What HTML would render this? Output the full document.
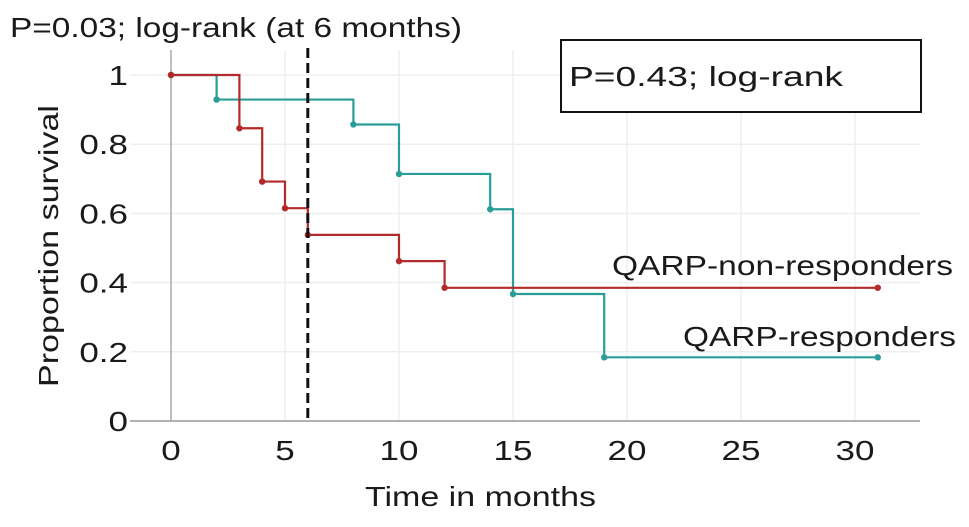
<!DOCTYPE html>
<html><head><meta charset="utf-8"><style>
body{margin:0;background:#fff;}
svg text{font-family:"Liberation Sans",sans-serif;fill:#1a1a1a;}
</style></head><body>
<svg id="chart" width="969" height="522" viewBox="0 0 969 522" xmlns="http://www.w3.org/2000/svg">
<g id="grid"></g>
<line x1="171" y1="50" x2="171" y2="421" stroke="#aaa" stroke-width="1.5"/>
<line x1="130" y1="421" x2="920" y2="421" stroke="#999" stroke-width="1.5"/>
<g id="ticks"></g>
<g id="series"></g>
<line id="vline" y1="48" y2="421" stroke="#111" stroke-width="3" stroke-dasharray="10,5"/>
<text x="10" y="37" font-size="28" textLength="452" lengthAdjust="spacingAndGlyphs">P=0.03; log-rank (at 6 months)</text>
<rect x="561" y="40" width="360" height="72" fill="#fff" stroke="#111" stroke-width="2"/>
<text x="569" y="86" font-size="28" textLength="274" lengthAdjust="spacingAndGlyphs">P=0.43; log-rank</text>
<text x="612" y="275" font-size="28" textLength="341" lengthAdjust="spacingAndGlyphs">QARP-non-responders</text>
<text x="683" y="346" font-size="28" textLength="273" lengthAdjust="spacingAndGlyphs">QARP-responders</text>
<text x="365" y="506" font-size="28" textLength="231" lengthAdjust="spacingAndGlyphs">Time in months</text>
<text transform="translate(58,387) rotate(-90)" font-size="28" textLength="282" lengthAdjust="spacingAndGlyphs">Proportion survival</text>
</svg>
<script>
const xTicks=[0,5,10,15,20,25,30];
const yTicks=[0,0.2,0.4,0.6,0.8,1];
const yTickLabels=["0","0.2","0.4","0.6","0.8","1"];
const redTimes=[0,3,4,5,6,10,12,31];
const redSurv=[1,0.846,0.692,0.615,0.538,0.462,0.385,0.385];
const tealTimes=[0,2,8,10,14,15,19,31];
const tealSurv=[1,0.929,0.857,0.714,0.612,0.367,0.184,0.184];
const markerTime=6;
const X=t=>171+t*22.8;
const Y=v=>421-v*346;
const NS="http://www.w3.org/2000/svg";
function mk(tag,attrs,parent){const e=document.createElementNS(NS,tag);for(const k in attrs)e.setAttribute(k,attrs[k]);parent.appendChild(e);return e;}
const grid=document.getElementById('grid'),ticks=document.getElementById('ticks'),series=document.getElementById('series');
yTicks.forEach((v,i)=>{
 if(v>0){const l=mk('line',{x1:130,x2:920,y1:Y(v),y2:Y(v),stroke:'#efefef','stroke-width':1.5},grid);
 
 }
 const t=mk('text',{transform:'translate(128,'+(Y(v)+10)+') scale(1.25,1)','font-size':28,'text-anchor':'end'},ticks);t.textContent=yTickLabels[i];
 
 
});
xTicks.forEach(v=>{
 if(v>0){const l=mk('line',{x1:X(v),x2:X(v),y1:50,y2:421,stroke:'#efefef','stroke-width':1.5},grid);
 
 }
 const t=mk('text',{transform:'translate('+X(v)+',460) scale(1.25,1)','font-size':28,'text-anchor':'middle'},ticks);t.textContent=v;
 
 
});
const vl=document.getElementById('vline');vl.setAttribute('x1',X(markerTime));vl.setAttribute('x2',X(markerTime));
function draw(times,surv,color,name){
 let d='M'+X(times[0])+','+Y(surv[0]);
 for(let i=1;i<times.length;i++){d+=' H'+X(times[i])+' V'+Y(surv[i]);}
 const p=mk('path',{d:d,fill:'none',stroke:color,'stroke-width':2.2},series);
 
 
 times.forEach((t,i)=>{const c=mk('circle',{cx:X(t),cy:Y(surv[i]),r:3.2,fill:color},series);
 
 });
}
draw(tealTimes,tealSurv,'#2a9d99','responders');
draw(redTimes,redSurv,'#b22a2a','non-responders');
</script>
</body></html>
